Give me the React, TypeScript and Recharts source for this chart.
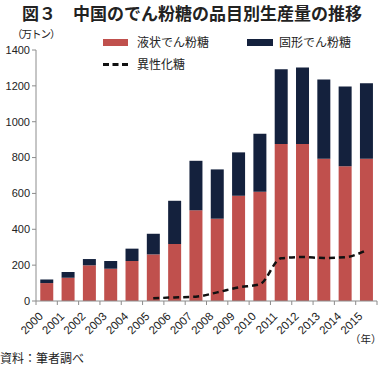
import { ComposedChart, Bar, Line, XAxis, YAxis } from 'recharts'

const years = ['2000', '2001', '2002', '2003', '2004', '2005', '2006', '2007', '2008', '2009', '2010', '2011', '2012', '2013', '2014', '2015']
// 液状でん粉糖
const liquid = [100, 130, 199, 180, 223, 260, 318, 506, 459, 587, 610, 876, 876, 794, 751, 794]
// 固形でん粉糖
const solid = [20, 32, 35, 43, 69, 115, 241, 276, 275, 242, 323, 416, 427, 442, 446, 420]
// 異性化糖
const isomerized = [null, null, null, null, null, 15, 20, 24, 48, 76, 93, 238, 245, 240, 244, 283]
const yTicks = [0, 200, 400, 600, 800, 1000, 1200, 1400]

const RED = '#c0504d'
const NAVY = '#14213d'
const AXIS = '#8c8c8c'
const FONT = '"Liberation Sans", Arial, "Noto Sans CJK JP", sans-serif'
const JP = '"Noto Sans CJK JP", sans-serif'

const data = years.map((y, i) => ({ year: y, liquid: liquid[i], solid: solid[i], iso: isomerized[i] }))

// year label plus a tick mark on the band boundary (Excel style)
function YearTick({ x, y, payload, index }: any) {
  const half = payload.offset || 10.67
  return (
    <g>
      <line x1={x - half} x2={x - half} y1={y} y2={y + 4} stroke={AXIS} />
      {index === years.length - 1 && <line x1={x + half} x2={x + half} y1={y} y2={y + 4} stroke={AXIS} />}
      <text x={x - 3} y={y + 16} transform={`rotate(-45, ${x - 3}, ${y + 16})`} textAnchor="end" fontSize={11.5} fill="#222" fontFamily={FONT}>
        {payload.value}
      </text>
    </g>
  )
}

export default function App() {
  return (
    <div style={{ position: 'absolute', left: 0, top: 0, width: 384, height: 368, background: '#fff', fontFamily: JP, overflow: 'hidden' }}>
      <div style={{ position: 'absolute', left: 0, top: 1, width: 384, textAlign: 'center', fontSize: 17, fontWeight: 700, color: '#222', lineHeight: '24px' }}>
        図３　中国のでん粉糖の品目別生産量の推移
      </div>
      <div style={{ position: 'absolute', left: 12, top: 26, fontSize: 10.5, color: '#222', letterSpacing: -1 }}>（万トン）</div>
      <div style={{ position: 'absolute', left: 103, top: 34, fontSize: 12, color: '#222', lineHeight: '16px' }}>
        <div style={{ display: 'flex', alignItems: 'center' }}>
          <span style={{ display: 'inline-block', width: 25, height: 7, background: RED, marginRight: 9 }} />
          <span style={{ width: 110 }}>液状でん粉糖</span>
          <span style={{ display: 'inline-block', width: 26, height: 7, background: NAVY, marginRight: 6 }} />
          <span>固形でん粉糖</span>
        </div>
        <div style={{ display: 'flex', alignItems: 'center', marginTop: 6 }}>
          <span style={{ display: 'inline-block', width: 25, borderTop: '3px dashed #111', marginRight: 9 }} />
          <span>異性化糖</span>
        </div>
      </div>
      <ComposedChart width={384} height={368} data={data} margin={{ top: 50, right: 7, bottom: 35, left: 0 }} barCategoryGap="20%">
        <XAxis dataKey="year" interval={0} height={32} stroke={AXIS} tickLine={false} tickSize={0} tickMargin={0} tick={<YearTick />} />
        <YAxis width={36} domain={[0, 1400]} ticks={yTicks} stroke={AXIS} tickSize={4} tick={{ fontSize: 11, fill: '#222', fontFamily: FONT }} />
        <Bar dataKey="liquid" stackId="a" fill={RED} isAnimationActive={false} />
        <Bar dataKey="solid" stackId="a" fill={NAVY} isAnimationActive={false} />
        <Line dataKey="iso" type="monotone" stroke="#111" strokeWidth={2.5} strokeDasharray="6 4" dot={false} isAnimationActive={false} />
      </ComposedChart>
      <div style={{ position: 'absolute', left: 350, top: 331, fontSize: 10.5, color: '#222', whiteSpace: 'nowrap' }}>（年）</div>
      <div style={{ position: 'absolute', left: 0, top: 349, fontSize: 12, color: '#222' }}>資料：筆者調べ</div>
    </div>
  )
}
